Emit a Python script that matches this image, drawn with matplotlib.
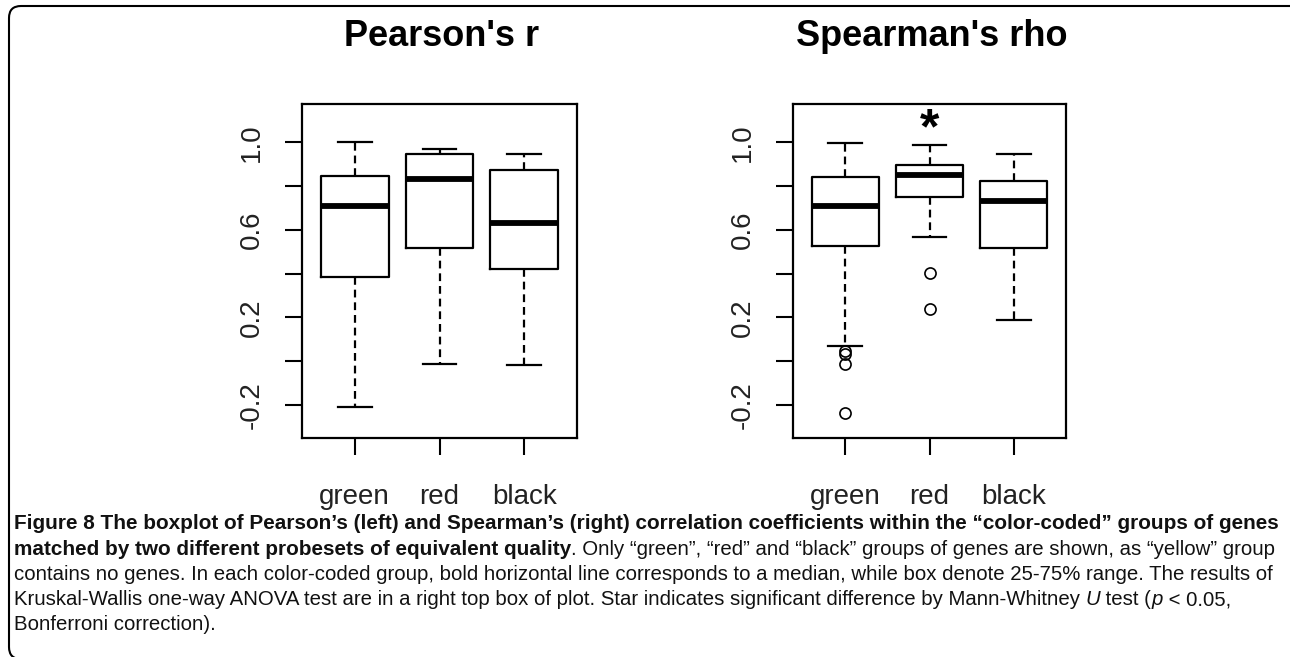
import matplotlib
matplotlib.use('Agg')
import matplotlib.pyplot as plt
from matplotlib.patches import FancyBboxPatch
from matplotlib.transforms import IdentityTransform

# --- Dados ---
groups = ['green', 'red', 'black']

pearson_med = [0.709, 0.833, 0.633]
pearson_q1 = [0.384, 0.517, 0.420]
pearson_q3 = [0.848, 0.947, 0.874]
pearson_lo = [-0.212, -0.012, -0.020]
pearson_hi = [1.000, 0.972, 0.947]
pearson_out = [[], [], []]

spearman_med = [0.709, 0.850, 0.734]
spearman_q1 = [0.528, 0.752, 0.516]
spearman_q3 = [0.841, 0.897, 0.822]
spearman_lo = [0.070, 0.566, 0.188]
spearman_hi = [0.996, 0.987, 0.947]
spearman_out = [[0.045, 0.030, -0.014, -0.236], [0.401, 0.237], []]

yticks = [-0.2, 0.0, 0.2, 0.4, 0.6, 0.8, 1.0]
ytick_labels = ['-0.2', '', '0.2', '', '0.6', '', '1.0']

star_group = 'red'
star_value = 1.095

caption_lines = [
    [("Figure 8 The boxplot of Pearson\u2019s (left) and Spearman\u2019s (right) correlation coefficients within the \u201ccolor-coded\u201d groups of genes", 'bold')],
    [("matched by two different probesets of equivalent quality", 'bold'),
     (". Only \u201cgreen\u201d, \u201cred\u201d and \u201cblack\u201d groups of genes are shown, as \u201cyellow\u201d group", 'normal')],
    [("contains no genes. In each color-coded group, bold horizontal line corresponds to a median, while box denote 25-75% range. The results of", 'normal')],
    [("Kruskal-Wallis one-way ANOVA test are in a right top box of plot. Star indicates significant difference by Mann-Whitney ", 'normal'),
     ("U", 'italic'), (" test (", 'normal'), ("p", 'italic'), (" < 0.05,", 'normal')],
    [("Bonferroni correction).", 'normal')],
]

W, H = 1290, 657
FONT = 'Liberation Sans'
CAP_FONT = ['Liberation Sans Narrow', 'Liberation Sans', 'DejaVu Sans']


def make_stats(med, q1, q3, lo, hi, out):
    stats = []
    for i in range(len(groups)):
        stats.append(dict(med=med[i], q1=q1[i], q3=q3[i], whislo=lo[i], whishi=hi[i],
                          fliers=out[i], label=groups[i]))
    return stats


fig = plt.figure(figsize=(W / 100, H / 100), dpi=100)

panels = [
    ("Pearson's r", make_stats(pearson_med, pearson_q1, pearson_q3, pearson_lo, pearson_hi, pearson_out), 302, 275),
    ("Spearman's rho", make_stats(spearman_med, spearman_q1, spearman_q3, spearman_lo, spearman_hi, spearman_out), 793, 273),
]

for k, (title, stats, x0, w) in enumerate(panels):
    ax = fig.add_axes([x0 / W, 1 - 438 / H, w / W, 334 / H])
    ax.bxp(stats, positions=[1, 2, 3], widths=0.8, showfliers=True,
           boxprops=dict(color='black', lw=1.6),
           medianprops=dict(color='black', lw=4.2, solid_capstyle='butt'),
           whiskerprops=dict(color='black', lw=1.6, linestyle=(0, (3.5, 2.2))),
           capprops=dict(color='black', lw=1.6),
           flierprops=dict(marker='o', markerfacecolor='none', markeredgecolor='black',
                           markersize=8, markeredgewidth=1.2))
    ax.set_xlim(0.38, 3.62)
    ax.set_ylim(-0.352, 1.176)
    ax.set_yticks(yticks)
    ax.set_yticklabels(ytick_labels, rotation=90, va='center', fontsize=20, family=FONT, color='#222222')
    ax.set_xticks([1, 2, 3])
    ax.set_xticklabels(groups, fontsize=20, family=FONT, color='#222222')
    ax.tick_params(axis='both', direction='out', length=12, width=1.5)
    ax.tick_params(axis='x', pad=21)
    ax.tick_params(axis='y', pad=15)
    for s in ax.spines.values():
        s.set_linewidth(1.6)
    fig.text((x0 + w / 2 + 2) / W, 1 - 37 / H, title, ha='center', va='center',
             fontsize=26, fontweight='bold', family=FONT)
    if k == 1:
        ax.annotate('*', (groups.index(star_group) + 1, star_value), xytext=(0, -6),
                    textcoords='offset points', ha='center', va='center',
                    fontsize=36, fontweight='bold', family=FONT)

# --- Legenda (caption) ---
renderer = fig.canvas.get_renderer()


def measure(txt, size, style):
    weight = 'bold' if style == 'bold' else 'normal'
    fstyle = 'italic' if style == 'italic' else 'normal'
    t = fig.text(0, 0, txt, fontsize=size, fontweight=weight, fontstyle=fstyle, family=CAP_FONT)
    wpx = t.get_window_extent(renderer).width
    t.remove()
    return wpx


bold_size = 10 * 1266 / measure(caption_lines[0][0][0], 10, 'bold')
reg_size = 10 * 1264 / measure(caption_lines[2][0][0], 10, 'normal')

baselines = [529, 555, 580, 605, 630]
for line, by in zip(caption_lines, baselines):
    x = 14
    for txt, style in line:
        size = bold_size if style == 'bold' else reg_size
        weight = 'bold' if style == 'bold' else 'normal'
        fstyle = 'italic' if style == 'italic' else 'normal'
        t = fig.text(x / W, 1 - by / H, txt, fontsize=size, fontweight=weight,
                     fontstyle=fstyle, family=CAP_FONT, va='baseline', ha='left', color='#111111')
        x += t.get_window_extent(renderer).width

# moldura arredondada (lado direito fica fora da imagem)
frame = FancyBboxPatch((9, -2), 1300, 653, boxstyle="round,pad=0,rounding_size=12",
                       transform=IdentityTransform(), fill=False, lw=1.5, ec='black')
fig.add_artist(frame)

fig.savefig('out.png', dpi=100)
